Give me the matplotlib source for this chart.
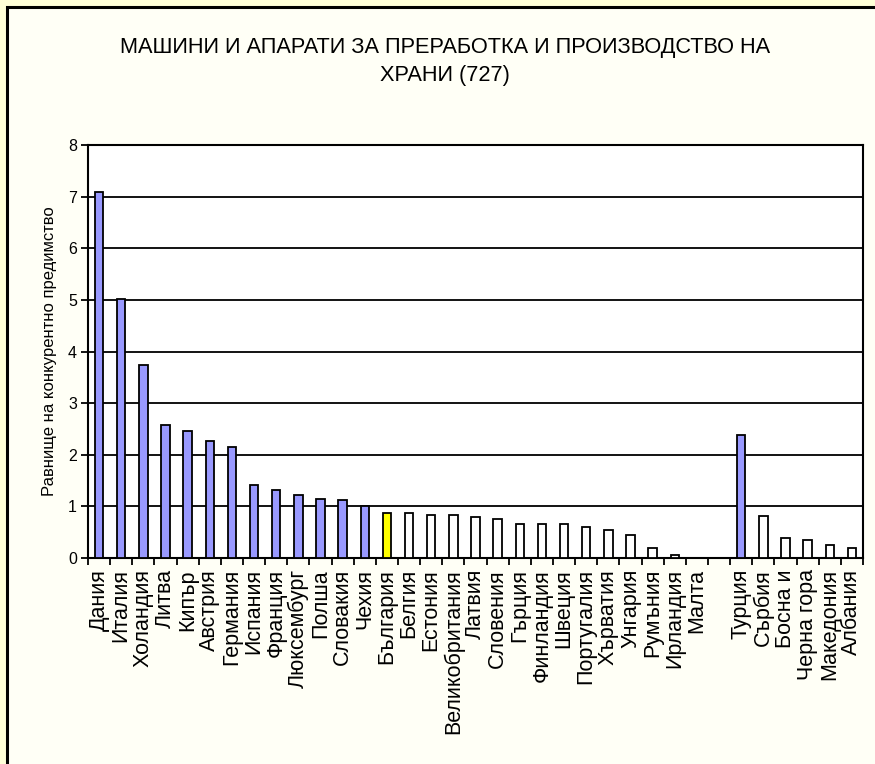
import matplotlib.pyplot as plt
from matplotlib.patches import Rectangle

plt.rcParams['font.family'] = ['Liberation Sans', 'DejaVu Sans']

# Данни (празна позиция между Малта и Турция)
countries = ['Дания', 'Италия', 'Холандия', 'Литва', 'Кипър', 'Австрия', 'Германия',
             'Испания', 'Франция', 'Люксембург', 'Полша', 'Словакия', 'Чехия',
             'България', 'Белгия', 'Естония', 'Великобритания', 'Латвия', 'Словения',
             'Гърция', 'Финландия', 'Швеция', 'Португалия', 'Хърватия', 'Унгария',
             'Румъния', 'Ирландия', 'Малта', '',
             'Турция', 'Сърбия', 'Босна и', 'Черна гора', 'Македония', 'Албания']
values = [7.08, 5.01, 3.74, 2.58, 2.46, 2.27, 2.15,
          1.42, 1.31, 1.23, 1.15, 1.12, 1.00,
          0.88, 0.88, 0.84, 0.84, 0.80, 0.76,
          0.65, 0.65, 0.65, 0.61, 0.54, 0.45,
          0.19, 0.06, 0.0, 0.0,
          2.39, 0.81, 0.39, 0.34, 0.26, 0.19]
highlight = 'България'

colors = []
for c, v in zip(countries, values):
    if c == highlight:
        colors.append('#FFFF00')
    elif v >= 1.0:
        colors.append('#9999FF')
    else:
        colors.append('white')

fig = plt.figure(figsize=(8.75, 7.64), dpi=100)
fig.patch.set_facecolor('#FFFFD8')
frame = Rectangle((7 / 875, -0.1), 1.2, (764 - 7) / 764 + 0.1,
                  transform=fig.transFigure, facecolor='#FFFFF6',
                  edgecolor='black', linewidth=2.2, zorder=-10)
fig.patches.append(frame)

ax = fig.add_axes([88 / 875, (764 - 558) / 764, (863 - 88) / 875, (558 - 145) / 764])
ax.set_zorder(1)
ax.set_facecolor('white')

x = list(range(len(countries)))
for xi, v, col in zip(x, values, colors):
    if v > 0:
        ax.bar(xi, v, width=0.38, color=col, edgecolor='black', linewidth=1.3, zorder=3)

ax.set_xlim(-0.5, len(countries) - 0.5)
ax.set_ylim(0, 8)
ax.set_yticks(range(0, 9))
ax.yaxis.grid(True, color='black', linewidth=1.3, zorder=0)
ax.set_axisbelow(True)
ax.tick_params(axis='y', direction='out', length=5, width=1.3, labelsize=11.5, pad=3)

ax.set_xticks(x)
ax.set_xticklabels(countries, rotation=90, fontsize=15.5)
ax.set_xticks([i - 0.5 for i in range(len(countries) + 1)], minor=True)
ax.tick_params(axis='x', which='major', length=0, pad=8)
ax.tick_params(axis='x', which='minor', direction='out', length=5, width=1.3)

for s in ax.spines.values():
    s.set_linewidth(1.5)
    s.set_color('black')

ax.set_ylabel('Равнище на конкурентно предимство', fontsize=12, labelpad=8)

fig.text(445 / 875, 1 - 47 / 764, 'МАШИНИ И АПАРАТИ ЗА ПРЕРАБОТКА И ПРОИЗВОДСТВО НА',
         ha='center', va='center', fontsize=15.7)
fig.text(445 / 875, 1 - 76 / 764, 'ХРАНИ (727)', ha='center', va='center', fontsize=15.7)

fig.savefig('out.png', dpi=100, facecolor=fig.get_facecolor())
